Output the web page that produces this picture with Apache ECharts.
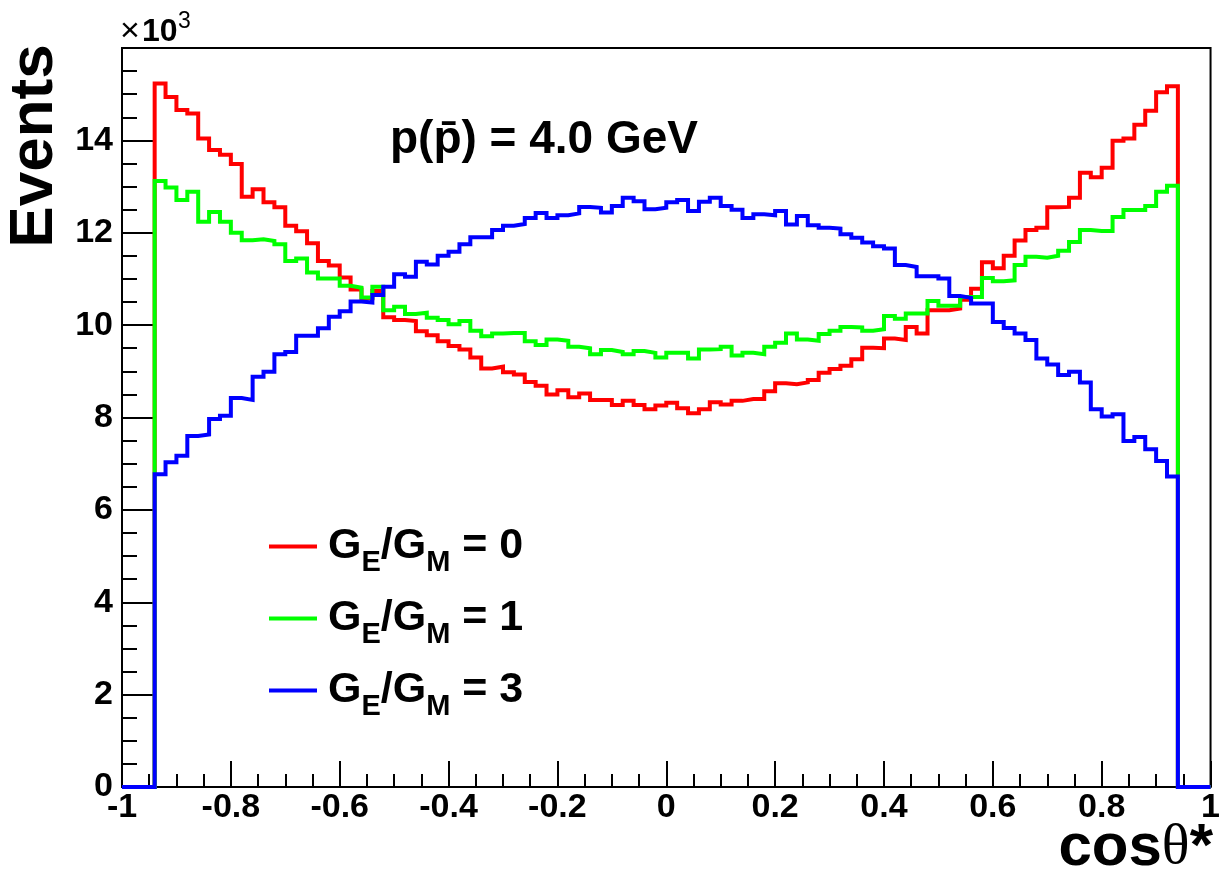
<!DOCTYPE html>
<html>
<head>
<meta charset="utf-8">
<script src="https://cdn.jsdelivr.net/npm/echarts@6/dist/echarts.min.js"></script>
<style>
html,body{margin:0;padding:0;background:#fff;}
#chart{width:1223px;height:876px;}
</style>
</head>
<body>
<div id="chart"></div>
<script>
// Histogram binning: 100 bins of width 0.02 on [-1, 1]; bins 0-2 and 97-99 are empty
const binLow = -1;
const binWidth = 0.02;
const nBins = 100;
const firstFilledBin = 3;

// Bin contents (x10^3 events) for bins 3..96
const redValues = [
  15.23,14.94,14.66,14.58,14.04,13.79,13.69,13.49,12.78,12.94,
  12.66,12.55,12.15,12.03,11.77,11.39,11.29,11.03,10.77,10.58,
  10.74,10.17,10.11,10.09,9.87,9.78,9.65,9.55,9.47,9.30,
  9.06,9.10,8.98,8.93,8.77,8.69,8.50,8.59,8.44,8.52,
  8.38,8.38,8.27,8.36,8.27,8.18,8.26,8.32,8.20,8.09,
  8.18,8.33,8.28,8.36,8.40,8.40,8.57,8.74,8.72,8.76,
  8.81,8.97,9.05,9.12,9.26,9.51,9.50,9.71,9.68,9.96,
  9.82,10.32,10.32,10.36,10.55,10.79,11.36,11.23,11.50,11.83,
  12.06,12.11,12.55,12.56,12.76,13.30,13.20,13.41,13.99,14.04,
  14.34,14.64,15.04,15.17
];
const greenValues = [
  13.12,12.98,12.71,12.89,12.24,12.45,12.24,12.00,11.84,11.86,
  11.82,11.75,11.39,11.44,11.14,11.01,11.01,10.85,10.81,10.60,
  10.83,10.32,10.40,10.24,10.27,10.16,10.11,10.02,10.09,9.88,
  9.76,9.82,9.83,9.83,9.65,9.57,9.69,9.66,9.53,9.50,
  9.37,9.46,9.42,9.37,9.44,9.40,9.30,9.40,9.40,9.28,
  9.47,9.48,9.53,9.34,9.40,9.37,9.53,9.62,9.82,9.69,
  9.66,9.81,9.88,9.96,9.95,9.88,9.91,10.20,10.14,10.25,
  10.25,10.52,10.42,10.42,10.61,10.61,11.02,10.95,10.97,11.30,
  11.48,11.46,11.50,11.61,11.80,12.06,12.04,12.04,12.34,12.49,
  12.49,12.58,12.89,13.02
];
const blueValues = [
  6.77,7.03,7.17,7.60,7.63,7.97,8.04,8.42,8.38,8.88,
  8.99,9.37,9.42,9.77,9.77,9.93,10.18,10.30,10.51,10.49,
  10.65,10.83,11.10,11.05,11.37,11.31,11.50,11.59,11.75,11.90,
  11.90,12.06,12.15,12.19,12.32,12.43,12.32,12.38,12.42,12.56,
  12.54,12.44,12.58,12.76,12.68,12.51,12.54,12.66,12.71,12.47,
  12.67,12.76,12.58,12.50,12.32,12.40,12.38,12.47,12.18,12.36,
  12.16,12.11,12.09,11.97,11.89,11.79,11.71,11.66,11.30,11.26,
  11.06,11.06,11.01,10.63,10.59,10.47,10.47,10.07,9.94,9.82,
  9.68,9.28,9.15,8.92,8.99,8.76,8.18,8.02,8.07,7.49,
  7.58,7.31,7.06,6.72
];

const seriesNames = ['GE/GM = 0', 'GE/GM = 1', 'GE/GM = 3'];
const legendRich = [
  '{m|G}{s|E}{m|/G}{s|M}{m| = 0}',
  '{m|G}{s|E}{m|/G}{s|M}{m| = 1}',
  '{m|G}{s|E}{m|/G}{s|M}{m| = 3}'
];
const seriesColors = ['#ff0000', '#00ff00', '#0000ff'];
const xTickLabels = ['-1','-0.8','-0.6','-0.4','-0.2','0','0.2','0.4','0.6','0.8','1'];
const yTickLabels = ['0','2','4','6','8','10','12','14','16'];

function histPoints(vals) {
  const full = new Array(nBins).fill(0);
  vals.forEach((v, i) => { full[firstFilledBin + i] = v; });
  const pts = [];
  for (let i = 0; i < nBins; i++) {
    const x0 = +(binLow + i * binWidth).toFixed(4);
    const x1 = +(binLow + (i + 1) * binWidth).toFixed(4);
    pts.push([x0, full[i]], [x1, full[i]]);
  }
  return pts;
}

const allValues = [redValues, greenValues, blueValues];
const font = '"Liberation Sans", Arial, Helvetica, sans-serif';

const chart = echarts.init(document.getElementById('chart'), null, {renderer: 'canvas'});
chart.setOption({
  animation: false,
  backgroundColor: '#fff',
  grid: {left: 122, right: 11, top: 48, bottom: 89, show: true, borderColor: '#000', borderWidth: 2, containLabel: false},
  xAxis: {
    type: 'value', min: -1, max: 1, interval: 0.2,
    axisLine: {onZero: false, lineStyle: {color: '#000', width: 2}},
    axisTick: {inside: true, length: 26, lineStyle: {color: '#000', width: 2}},
    minorTick: {show: true, splitNumber: 4, length: 13, lineStyle: {color: '#000', width: 2}},
    splitLine: {show: false},
    axisLabel: {
      margin: 4, color: '#000', fontSize: 34, fontWeight: 'bold', fontFamily: font,
      formatter: v => xTickLabels[Math.round((v + 1) / 0.2)]
    }
  },
  yAxis: {
    type: 'value', min: 0, max: 16, interval: 2,
    axisLine: {onZero: false, lineStyle: {color: '#000', width: 2}},
    axisTick: {inside: true, length: 31, lineStyle: {color: '#000', width: 2}},
    minorTick: {show: true, splitNumber: 4, length: 15, lineStyle: {color: '#000', width: 2}},
    splitLine: {show: false},
    axisLabel: {
      margin: 9, color: '#000', fontSize: 34, fontWeight: 'bold', fontFamily: font,
      showMaxLabel: false,
      formatter: v => yTickLabels[Math.round(v / 2)]
    }
  },
  legend: {
    orient: 'vertical', left: 269, top: 516, padding: 0, itemGap: 11,
    itemWidth: 48, itemHeight: 4, icon: 'rect',
    data: seriesNames,
    formatter: name => legendRich[seriesNames.indexOf(name)],
    textStyle: {
      padding: [0, 0, 0, 6],
      rich: {
        m: {fontSize: 43, fontWeight: 'bold', fontFamily: font, color: '#000', lineHeight: 50},
        s: {fontSize: 29, fontWeight: 'bold', fontFamily: font, color: '#000', lineHeight: 50, padding: [32, 0, 0, 0]}
      }
    }
  },
  graphic: [
    {type: 'text', x: 35, y: 146, rotation: Math.PI / 2,
      style: {text: 'Events', font: 'bold 62px ' + font, align: 'center', verticalAlign: 'middle', fill: '#000'}},
    {type: 'text', x: 1213, y: 848,
      style: {
        text: '{a|cos}{t|θ}{a|*}', align: 'right', verticalAlign: 'middle',
        rich: {
          a: {fontSize: 60, fontWeight: 'bold', fontFamily: font, fill: '#000', lineHeight: 66},
          t: {fontSize: 58, fontWeight: 'normal', fontFamily: '"Liberation Serif", "DejaVu Serif", serif', fill: '#000', lineHeight: 66}
        }
      }},
    {type: 'text', x: 120, y: 32,
      style: {text: '×', font: '34px ' + font, align: 'left', verticalAlign: 'middle', fill: '#000'}},
    {type: 'text', x: 142, y: 32,
      style: {text: '10', font: 'bold 32px ' + font, align: 'left', verticalAlign: 'middle', fill: '#000'}},
    {type: 'text', x: 178, y: 22,
      style: {text: '3', font: '23px ' + font, align: 'left', verticalAlign: 'middle', fill: '#000'}},
    {type: 'text', x: 390, y: 140,
      style: {text: 'p(p\u0304) = 4.0 GeV', font: 'bold 46px ' + font, align: 'left', verticalAlign: 'middle', fill: '#000'}}
  ],
  series: allValues.map((vals, i) => ({
    name: seriesNames[i],
    type: 'line',
    data: histPoints(vals),
    showSymbol: false,
    clip: false,
    z: 2 + i,
    color: seriesColors[i],
    lineStyle: {color: seriesColors[i], width: 4, join: 'miter', cap: 'butt'},
    emphasis: {disabled: true}
  }))
});
</script>
</body>
</html>
